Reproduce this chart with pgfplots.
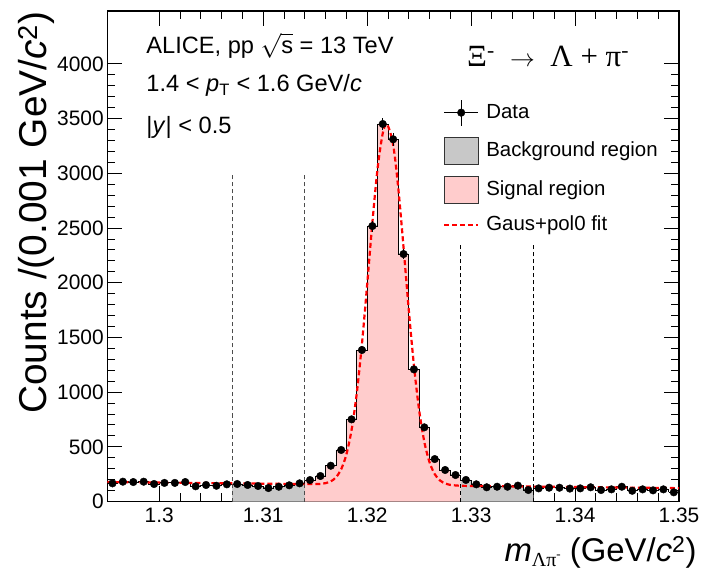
\documentclass[border=0pt]{standalone}
\usepackage{fontspec}
\setmainfont{Liberation Sans}
\newfontfamily\serif{Liberation Serif}
\usepackage{pgfplots}
\usepackage{pgfplotstable}
\pgfplotsset{compat=1.18}
\definecolor{bggray}{RGB}{200,200,200}
\definecolor{sigpink}{RGB}{255,204,204}

\pgfplotstableread{
x y e
1.2955 166 12.9
1.2965 181 13.5
1.2975 178 13.3
1.2985 181 13.5
1.2995 160 12.6
1.3005 170 13.0
1.3015 170 13.0
1.3025 178 13.3
1.3035 139 11.8
1.3045 151 12.3
1.3055 144 12.0
1.3065 157 12.5
1.3075 160 12.6
1.3085 151 12.3
1.3095 142 11.9
1.3105 123 11.1
1.3115 135 11.6
1.3125 148 12.2
1.3135 166 12.9
1.3145 196 14.0
1.3155 233 15.3
1.3165 327 18.1
1.3175 471 21.7
1.3185 751 27.4
1.3195 1385 37.2
1.3205 2518 50.2
1.3215 3451 58.7
1.3225 3311 57.5
1.3235 2262 47.6
1.3245 1208 34.8
1.3255 678 26.0
1.3265 388 19.7
1.3275 288 17.0
1.3285 242 15.6
1.3295 197 14.0
1.3305 157 12.5
1.3315 130 11.4
1.3325 135 11.6
1.3335 135 11.6
1.3345 145 12.0
1.3355 105 10.2
1.3365 120 11.0
1.3375 126 11.2
1.3385 126 11.2
1.3395 118 10.9
1.3405 120 11.0
1.3415 130 11.4
1.3425 105 10.2
1.3435 111 10.5
1.3445 135 11.6
1.3455 98 9.9
1.3465 111 10.5
1.3475 102 10.1
1.3485 111 10.5
1.3495 84 9.2
}\datatable

\begin{document}
\begin{tikzpicture}
\useasboundingbox (-107.3bp,-71.5bp) rectangle (594.7bp,501.5bp);
\begin{axis}[
  scale only axis, width=571.7bp, height=490.5bp,
  at={(0,0)}, anchor=south west,
  xmin=1.295, xmax=1.35, ymin=0, ymax=4484,
  xtick={1.3,1.31,1.32,1.33,1.34,1.35},
  xticklabels={1.3,1.31,1.32,1.33,1.34,1.35},
  minor x tick num=4,
  ytick={0,500,1000,1500,2000,2500,3000,3500,4000},
  yticklabels={0,500,1000,1500,2000,2500,3000,3500,4000},
  minor y tick num=4,
  tick align=inside,
  major tick length=15bp, minor tick length=8bp,
  tick style={black, line width=0.9bp},
  axis line style={line width=1.1bp},
  ticklabel style={font=\fontsize{21}{24}\selectfont},
  xticklabel style={yshift=-3bp},
  xlabel={\textit{m}\raisebox{-5.5bp}{\fontsize{20}{20}\selectfont\serif Λπ\raisebox{8bp}{\fontsize{13}{13}\selectfont -}} (GeV/\textit{c}\textsuperscript{2})},
  ylabel={Counts /(0.001 GeV/\textit{c}\textsuperscript{2})},
  xlabel style={font=\fontsize{33}{36}\selectfont, at={(axis description cs:1.0367,-0.122)}, anchor=base east},
  ylabel style={font=\fontsize{39}{44}\selectfont, at={(axis description cs:-0.107,1.006)}, anchor=base east},
  legend cell align=left,
  legend style={draw=none, fill=none, at={(rel axis cs:0.587,0.8207)}, anchor=north west,
    font=\fontsize{20.5}{24}\selectfont, row sep=11bp, column sep=7bp, inner sep=0pt,
    nodes={inner sep=0pt, text height=15bp, text depth=4bp}},
]
\addlegendimage{legend image code/.code={
  \draw[black,line width=1bp] (0bp,0bp)--(34bp,0bp);
  \draw[black,line width=1bp] (17bp,-13bp)--(17bp,13bp);
  \fill[black] (17bp,0bp) circle (3.8bp);}}
\addlegendentry{Data}
\addlegendimage{legend image code/.code={
  \draw[black!80, fill=bggray, line width=1bp] (0bp,-13.5bp) rectangle (34bp,13.5bp);}}
\addlegendentry{Background region}
\addlegendimage{legend image code/.code={
  \draw[black!80, fill=sigpink, line width=1bp] (0bp,-13.5bp) rectangle (34bp,13.5bp);}}
\addlegendentry{Signal region}
\addlegendimage{legend image code/.code={
  \draw[red, line width=2.2bp, dash pattern=on 5bp off 3bp] (0bp,0bp)--(34bp,0bp);}}
\addlegendentry{Gaus+pol0 fit}

% shaded regions
\addplot[fill=bggray, draw=none, const plot, restrict x to domain=1.3065:1.3145, forget plot]
  table[x expr=\thisrow{x}-0.0005, y=y]{\datatable} \closedcycle;
\addplot[fill=sigpink, draw=none, const plot, restrict x to domain=1.3135:1.3295, forget plot]
  table[x expr=\thisrow{x}-0.0005, y=y]{\datatable} \closedcycle;
\addplot[fill=bggray, draw=none, const plot, restrict x to domain=1.3285:1.3365, forget plot]
  table[x expr=\thisrow{x}-0.0005, y=y]{\datatable} \closedcycle;

% histogram outline
\addplot[black, line width=0.9bp, const plot, forget plot]
  table[x expr=\thisrow{x}-0.0005, y=y]{\datatable};
\addplot[black, line width=0.9bp, forget plot] coordinates {(1.349,84) (1.35,84)};

% region boundaries
\addplot[black!70, line width=0.9bp, dash pattern=on 4bp off 3bp, forget plot] coordinates {(1.307,0) (1.307,3000)};
\addplot[black!70, line width=0.9bp, dash pattern=on 4bp off 3bp, forget plot] coordinates {(1.314,0) (1.314,3000)};
\addplot[black, line width=0.9bp, dash pattern=on 4bp off 3bp, forget plot] coordinates {(1.329,0) (1.329,2350)};
\addplot[black, line width=0.9bp, dash pattern=on 4bp off 3bp, forget plot] coordinates {(1.336,0) (1.336,2350)};

% fit
\addplot[red, line width=2.2bp, dash pattern=on 5bp off 3bp, smooth, forget plot] coordinates {
(1.295,178) (1.300,173) (1.305,168) (1.310,163) (1.312,161) (1.313,160) (1.314,159) (1.315,159)
(1.3155,161) (1.316,168) (1.3165,184) (1.317,221) (1.3175,295) (1.318,430) (1.3185,654)
(1.319,990) (1.3195,1442) (1.320,1983) (1.3205,2548) (1.321,3043) (1.3215,3366) (1.3219,3451)
(1.3225,3262) (1.323,2858) (1.3235,2322) (1.324,1755) (1.3245,1243) (1.325,835) (1.3255,545)
(1.326,359) (1.3265,250) (1.327,193) (1.3275,165) (1.328,152) (1.3285,147) (1.329,144)
(1.330,142) (1.335,137) (1.340,132) (1.345,127) (1.350,122)};

% data
\addplot[black, only marks, mark=*, mark size=3.8bp, forget plot,
  error bars/.cd, y dir=both, y explicit, error mark=none,
  error bar style={line width=1bp, black}]
  table[x=x, y=y, y error=e]{\datatable};

% annotations
\node[anchor=base west, font=\fontsize{23.7}{28}\selectfont] at (rel axis cs:0.0624,0.914)
  {ALICE, pp \(\sqrt{\mbox{s}}\) = 13 TeV};
\node[anchor=base west, font=\fontsize{23.7}{28}\selectfont] at (rel axis cs:0.0624,0.835)
  {1.4 < \textit{p}\textsubscript{T} < 1.6 GeV/\textit{c}};
\node[anchor=base west, font=\fontsize{23.7}{28}\selectfont] at (rel axis cs:0.0624,0.751)
  {|\textit{y}| < 0.5};
\node[anchor=base, font=\fontsize{31}{34}\selectfont\serif] at (rel axis cs:0.771,0.886)
  {Ξ\textsuperscript{-}\enspace\(\rightarrow\)\enspace Λ + π\textsuperscript{-}};
\end{axis}
\end{tikzpicture}
\end{document}
